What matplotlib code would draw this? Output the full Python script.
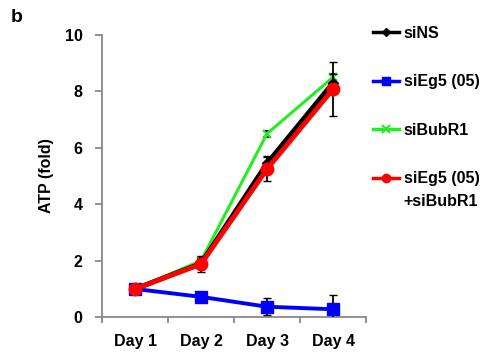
import numpy as np
import matplotlib
matplotlib.use("Agg")
import matplotlib.pyplot as plt
from matplotlib.lines import Line2D

plt.rcParams['font.family'] = ['Liberation Sans', 'DejaVu Sans']
plt.rcParams['font.weight'] = 'bold'

days = ['Day 1', 'Day 2', 'Day 3', 'Day 4']

# ATP (fold) values
si_ns = [1.0, 1.9, 5.45, 8.3]
si_ns_err = [0.1, 0.2, 0.25, 0.3]
si_eg5 = [1.0, 0.72, 0.37, 0.28]
si_eg5_err = [0.1, 0.08, 0.3, 0.5]
si_bubr1 = [1.0, 2.0, 6.5, 8.5]
si_bubr1_err = [0.05, 0.1, 0.1, 0.1]
si_both = [1.0, 1.88, 5.25, 8.08]
si_both_err = [0.05, 0.27, 0.44, 0.96]

x = np.arange(1, len(days) + 1)
fs = 11.5

fig = plt.figure(figsize=(5, 3.6), dpi=100)
ax = fig.add_axes([0.204, 0.119, 0.528, 0.784])

ax.errorbar(x, si_bubr1, yerr=si_bubr1_err, color='#22ee22', ecolor='black',
            elinewidth=1.3, capsize=3, lw=2.2, marker='x', ms=6, mew=1.5, zorder=2)
ax.errorbar(x, si_ns, yerr=si_ns_err, color='black', ecolor='black',
            elinewidth=1.3, capsize=3, lw=3.5, marker='D', ms=5, zorder=3)
ax.errorbar(x, si_eg5, yerr=si_eg5_err, color='#0000ff', ecolor='black',
            elinewidth=1.3, capsize=3, lw=2.8, marker='s', ms=8, zorder=4)
ax.errorbar(x, si_both, yerr=si_both_err, color='#ff0000', ecolor='black',
            elinewidth=1.3, capsize=3, lw=3.5, marker='o', ms=9, zorder=5)

ax.set_xlim(0.5, 4.5)
ax.set_ylim(0, 10)
ax.set_yticks([0, 2, 4, 6, 8, 10])
ax.set_xticks(x)
ax.set_xticklabels(days)
ax.set_xticks(np.arange(0.5, 4.6, 1), minor=True)
ax.tick_params(axis='x', which='major', length=0, pad=12, labelsize=fs)
ax.tick_params(axis='x', which='minor', length=4.5, color='#888888', width=1.3)
ax.tick_params(axis='y', length=5, color='#888888', width=1.3, labelsize=fs, pad=9)

for s in ['top', 'right']:
    ax.spines[s].set_visible(False)
for s in ['left', 'bottom']:
    ax.spines[s].set_color('#888888')
    ax.spines[s].set_linewidth(1.3)

ax.set_ylabel('ATP (fold)', fontsize=fs, fontweight='bold', labelpad=8)

# legend handles: line + marker only
handles = [
    Line2D([], [], color='black', lw=2.5, marker='D', ms=4),
    Line2D([], [], color='#0000ff', lw=2.5, marker='s', ms=6),
    Line2D([], [], color='#22ee22', lw=2.5, marker='x', ms=6, mew=1.5),
    Line2D([], [], color='#ff0000', lw=2.5, marker='o', ms=6),
]
labels = ['siNS', 'siEg5 (05)', 'siBubR1', 'siEg5 (05)']
leg = ax.legend(handles, labels, loc='upper left', bbox_to_anchor=(0.985, 1.072),
                frameon=False, fontsize=fs, labelspacing=2.1, handlelength=1.6,
                handletextpad=0.3, borderaxespad=0.3)

fig.canvas.draw()
bb = leg.get_texts()[3].get_window_extent().transformed(fig.transFigure.inverted())
fig.text(bb.x0, bb.y0 - 0.02, '+siBubR1', fontsize=fs, fontweight='bold', va='top')

fig.text(0.022, 0.94, 'b', fontsize=14, fontweight='bold')

fig.savefig('out.png', dpi=100)
